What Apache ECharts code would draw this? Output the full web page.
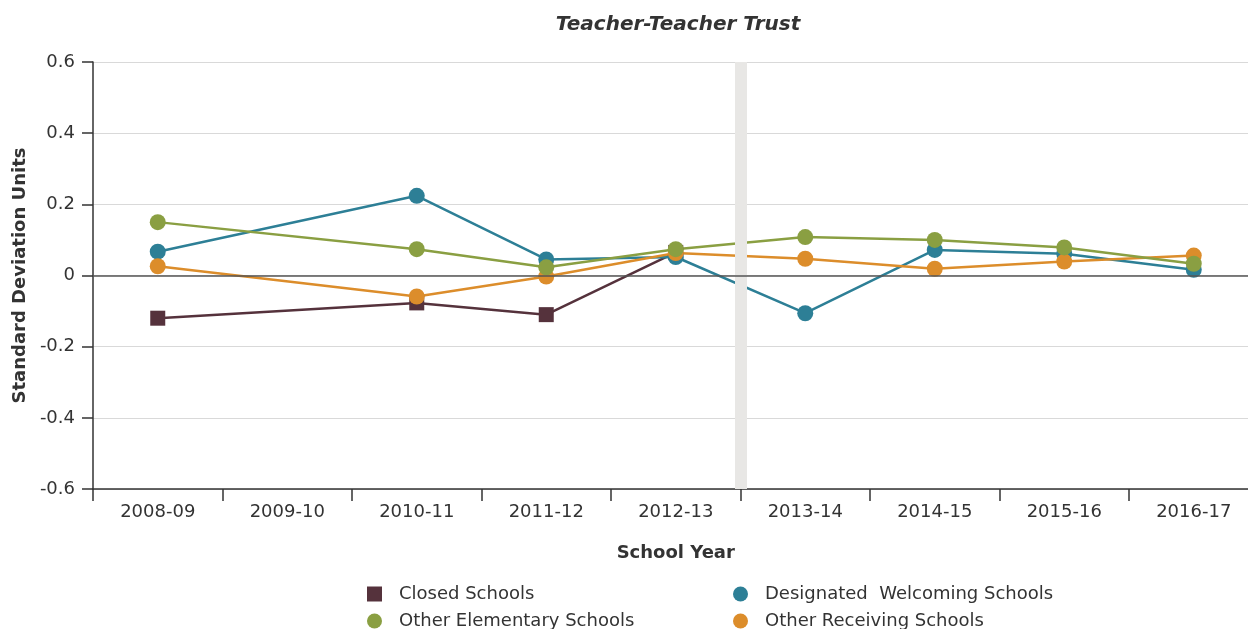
<!DOCTYPE html>
<html>
<head>
<meta charset="utf-8">
<script src="https://cdn.jsdelivr.net/npm/echarts@6/dist/echarts.min.js"></script>
<style>html,body{margin:0;padding:0;background:#fff}#c{width:1248px;height:629px}</style>
</head>
<body>
<div id="c"></div>
<script>
const categories = ['2008-09','2009-10','2010-11','2011-12','2012-13','2013-14','2014-15','2015-16','2016-17'];
const closedSchools      = [-0.120, null, -0.077, -0.110, 0.065, null, null, null, null];
const welcomingSchools   = [0.067, null, 0.224, 0.045, 0.052, -0.106, 0.072, 0.061, 0.016];
const elementarySchools  = [0.150, null, 0.074, 0.023, 0.074, 0.108, 0.100, 0.079, 0.033];
const receivingSchools   = [0.026, null, -0.059, -0.003, 0.063, 0.047, 0.019, 0.039, 0.056];
const seriesNames = ['Closed Schools','Designated  Welcoming Schools','Other Elementary Schools','Other Receiving Schools'];
const bandBefore = '2013-14';

const FONT = 'DejaVu Sans';
const chart = echarts.init(document.getElementById('c'), null, {renderer:'canvas'});
const bandPos = categories.indexOf(bandBefore);

function lineSeries(name, data, color, symbol, size){
  return {
    name, type:'line', data, connectNulls:true,
    symbol, symbolSize:size, showSymbol:true,
    lineStyle:{color, width:2.5},
    itemStyle:{color},
    animation:false
  };
}
function legendItem(name, icon, left, top){
  return {data:[{name, icon}], left, top, itemWidth:15, itemHeight:15,
    textStyle:{fontFamily:FONT, fontSize:18, color:'#333', padding:[0,0,0,12]}};
}

chart.setOption({
  animation:false,
  title:{
    text:'Teacher-Teacher Trust', left:673, top:10, textAlign:'center',
    textStyle:{fontFamily:FONT, fontSize:20, fontStyle:'italic', fontWeight:'bold', color:'#333'}
  },
  grid:{left:93, top:62, width:1165.5, height:427, outerBoundsMode:'none', containLabel:false},
  legend:[
    legendItem(seriesNames[0], 'rect', 362, 580),
    legendItem(seriesNames[2], 'circle', 362, 607),
    legendItem(seriesNames[1], 'circle', 728, 580),
    legendItem(seriesNames[3], 'circle', 728, 607)
  ],
  xAxis:[
    {type:'category', data:categories, boundaryGap:true,
     name:'School Year', nameLocation:'middle', nameGap:55,
     nameTextStyle:{fontFamily:FONT, fontSize:18, fontWeight:'bold', color:'#333'},
     axisLine:{onZero:false, lineStyle:{color:'#333', width:1.5}},
     axisTick:{show:true, length:12, lineStyle:{color:'#333', width:1.5}},
     axisLabel:{fontFamily:FONT, fontSize:18, color:'#333', margin:14},
     splitLine:{show:false}},
    {type:'value', min:0, max:categories.length, show:false, splitLine:{show:false}}
  ],
  yAxis:{
    type:'value', min:-0.6, max:0.6, interval:0.2,
    name:'Standard Deviation Units', nameLocation:'middle', nameGap:64,
    nameTextStyle:{fontFamily:FONT, fontSize:18, fontWeight:'bold', color:'#333'},
    axisLine:{show:true, lineStyle:{color:'#333', width:1.5}},
    axisTick:{show:true, length:11, lineStyle:{color:'#333', width:1.5}},
    axisLabel:{fontFamily:FONT, fontSize:18, color:'#333', margin:18,
      formatter:v => Math.abs(v) < 1e-9 ? '0' : v.toFixed(1)},
    splitLine:{show:true, lineStyle:{color:'#d9d9d9', width:1}}
  },
  series:[
    {type:'line', xAxisIndex:1, data:[], silent:true, z:1,
     markLine:{silent:true, symbol:'none', label:{show:false}, animation:false,
       data:[
         {xAxis:bandPos, lineStyle:{color:'#e8e7e5', width:12, type:'solid'}},
         {yAxis:0, lineStyle:{color:'#555', width:1.5, type:'solid'}}
       ]}},
    lineSeries(seriesNames[0], closedSchools, '#55323c', 'rect', 15),
    lineSeries(seriesNames[1], welcomingSchools, '#2d7f96', 'circle', 16),
    lineSeries(seriesNames[3], receivingSchools, '#dc8d2b', 'circle', 16),
    lineSeries(seriesNames[2], elementarySchools, '#8a9f42', 'circle', 16)
  ]
});
</script>
</body>
</html>
